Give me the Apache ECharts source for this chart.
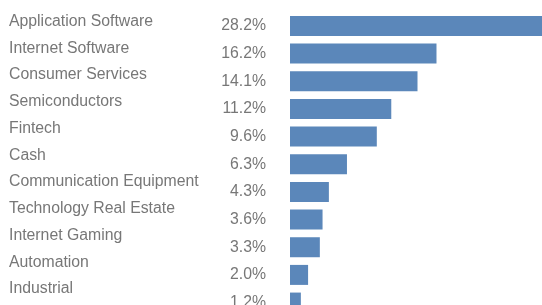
<!DOCTYPE html>
<html>
<head>
<meta charset="utf-8">
<script src="https://cdn.jsdelivr.net/npm/echarts@6/dist/echarts.min.js"></script>
<style>html,body{margin:0;padding:0;background:#fff;overflow:hidden;width:542px;height:305px;}#c{width:560px;height:320px;}</style>
</head>
<body>
<div id="c"></div>
<script>
const categories = ["Application Software","Internet Software","Consumer Services","Semiconductors","Fintech","Cash","Communication Equipment","Technology Real Estate","Internet Gaming","Automation","Industrial"];
const weights = [28.2,16.2,14.1,11.2,9.6,6.3,4.3,3.6,3.3,2.0,1.2];
const pctLabels = weights.map(v => v.toFixed(1) + '%');

const chart = echarts.init(document.getElementById('c'), null, {renderer:'canvas'});
const font = {fontFamily:'"Liberation Sans", Arial, sans-serif', fontSize:15.8, color:'#777777'};
chart.setOption({
  animation:false,
  grid:[
    {left:290, top:12.1, height:304.3, width:255, containLabel:false},
    {left:0, top:8.3, height:294, width:1, containLabel:false}
  ],
  xAxis:[
    {type:'value', gridIndex:0, min:0, max:28.2, show:false},
    {type:'value', gridIndex:1, min:0, max:1, show:false}
  ],
  yAxis:[
    {type:'category', gridIndex:0, inverse:true, data:pctLabels,
     axisLine:{show:false}, axisTick:{show:false}, splitLine:{show:false},
     axisLabel:Object.assign({margin:24, interval:0}, font)},
    {type:'category', gridIndex:1, inverse:true, position:'right', data:categories,
     axisLine:{show:false}, axisTick:{show:false}, splitLine:{show:false},
     axisLabel:Object.assign({margin:8, interval:0}, font)}
  ],
  series:[
    {type:'bar', xAxisIndex:0, yAxisIndex:0, data:weights, barWidth:20,
     itemStyle:{color:'#5B87BA'}, silent:true}
  ]
});
</script>
</body>
</html>
